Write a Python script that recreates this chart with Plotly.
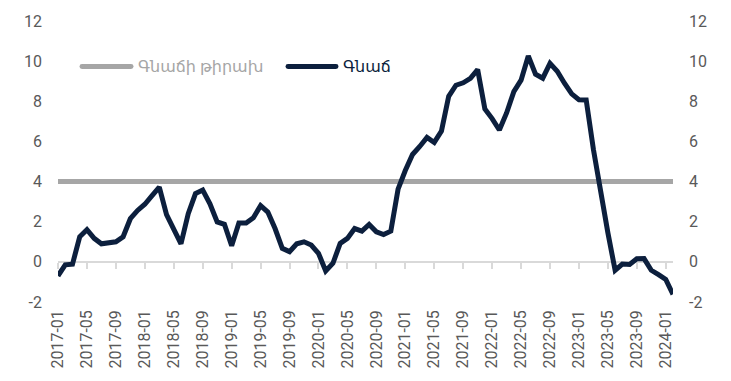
import plotly.graph_objects as go

# Monthly categories 2017-01 .. 2024-02
months = [f"{y}-{m:02d}" for y in range(2017, 2025) for m in range(1, 13)][:86]

# 12-month CPI inflation, %
inflation = [
    -0.70, -0.15, -0.12, 1.25, 1.60, 1.17, 0.90, 0.98, 1.00, 1.25, 2.15, 2.56,   # 2017
    2.87, 3.30, 3.72, 2.35, 1.60, 0.90, 2.40, 3.40, 3.58, 2.89, 1.99, 1.87,      # 2018
    0.80, 1.94, 1.94, 2.20, 2.80, 2.48, 1.66, 0.67, 0.51, 0.90, 1.00, 0.84,      # 2019
    0.43, -0.45, -0.07, 0.92, 1.17, 1.66, 1.53, 1.86, 1.50, 1.36, 1.53, 3.62,    # 2020
    4.55, 5.35, 5.75, 6.20, 5.95, 6.52, 8.25, 8.80, 8.92, 9.14, 9.58, 7.62,      # 2021
    7.14, 6.57, 7.42, 8.48, 9.05, 10.26, 9.35, 9.15, 9.89, 9.50, 8.90, 8.37,     # 2022
    8.08, 8.07, 5.60, 3.35, 1.45, -0.42, -0.11, -0.13, 0.15, 0.16, -0.42, -0.64, # 2023
    -0.88, -1.62,                                                                 # 2024
]

# Inflation target, %
target = [4.0] * len(months)

y_ticks = [-2, 0, 2, 4, 6, 8, 10, 12]
y_tick_text = ["-2", "0", "2", "4", "6", "8", "10", "12"]
x_ticks = months[::4]

target_name = "Գնաճի թիրախ"
inflation_name = "Գնաճ"

NAVY = "#0c1f3d"
TARGET_GREY = "#a6a6a6"
AXIS_GREY = "#595959"
ZERO_GREY = "#d9d9d9"
FONT = "Roboto, DejaVu Sans, sans-serif"

W, H = 731, 381
M_L, M_R, M_T, M_B = 58, 58, 19, 78

fig = go.Figure()
fig.add_trace(go.Scatter(
    x=months, y=target, name=target_name, mode="lines",
    line=dict(color=TARGET_GREY, width=5), xaxis="x", yaxis="y",
    showlegend=False,
))
fig.add_trace(go.Scatter(
    x=months, y=inflation, name=inflation_name, mode="lines",
    line=dict(color=NAVY, width=5), xaxis="x2", yaxis="y2",
    showlegend=False,
))

tickfont = dict(family=FONT, size=16, color=AXIS_GREY)

fig.update_layout(
    width=W, height=H,
    margin=dict(l=M_L, r=M_R, t=M_T, b=M_B),
    paper_bgcolor="white", plot_bgcolor="white",
    font=dict(family=FONT),
    xaxis=dict(
        type="category", range=[0, len(months) - 1],
        tickmode="array", tickvals=x_ticks, ticktext=x_ticks,
        tickangle=-90, tickfont=tickfont, ticks="", showline=False,
        showgrid=False, zeroline=False, ticklabelstandoff=4,
    ),
    # category axis crossing at y = 0 (light line with tick marks)
    xaxis2=dict(
        type="category", matches="x", overlaying="x",
        anchor="free", position=2 / 14,
        tickmode="array", tickvals=x_ticks, showticklabels=False,
        ticks="outside", ticklen=6, tickwidth=2, tickcolor=ZERO_GREY,
        showline=True, linecolor=ZERO_GREY, linewidth=2,
        showgrid=False, zeroline=False, layer="below traces",
    ),
    yaxis=dict(
        range=[-2, 12], tickmode="array", tickvals=y_ticks, ticktext=y_tick_text,
        tickfont=tickfont, showgrid=False, zeroline=False, showline=False,
        ticks="", ticklabelstandoff=15,
    ),
    yaxis2=dict(
        range=[-2, 12], matches="y", overlaying="y", side="right", anchor="x",
        tickmode="array", tickvals=y_ticks, ticktext=y_tick_text,
        tickfont=tickfont, showgrid=False, zeroline=False, showline=False,
        ticks="", ticklabelstandoff=15,
    ),
)

# Legend drawn in paper space: rounded swatch lines plus labels
def px_x(px):
    return (px - M_L) / (W - M_L - M_R)

def px_y(px):
    return (H - M_B - px) / (H - M_T - M_B)

LEG_Y = 65

def swatch(x0, x1, color):
    fig.add_shape(type="line", xref="paper", yref="paper",
                  x0=px_x(x0), x1=px_x(x1), y0=px_y(LEG_Y), y1=px_y(LEG_Y),
                  line=dict(color=color, width=5))
    for cx in (x0, x1):
        fig.add_shape(type="circle", xref="paper", yref="paper",
                      x0=px_x(cx - 2.5), x1=px_x(cx + 2.5),
                      y0=px_y(LEG_Y + 2.5), y1=px_y(LEG_Y - 2.5),
                      fillcolor=color, line=dict(width=0))

swatch(82, 131, TARGET_GREY)
swatch(288, 336, NAVY)

fig.add_annotation(x=px_x(136), y=px_y(LEG_Y), xref="paper", yref="paper",
                   text=target_name, showarrow=False, xanchor="left", yanchor="middle",
                   font=dict(family=FONT, size=16, color=TARGET_GREY))
fig.add_annotation(x=px_x(341), y=px_y(LEG_Y), xref="paper", yref="paper",
                   text=inflation_name, showarrow=False, xanchor="left", yanchor="middle",
                   font=dict(family=FONT, size=16, color=NAVY))

fig.write_html("out.html")
